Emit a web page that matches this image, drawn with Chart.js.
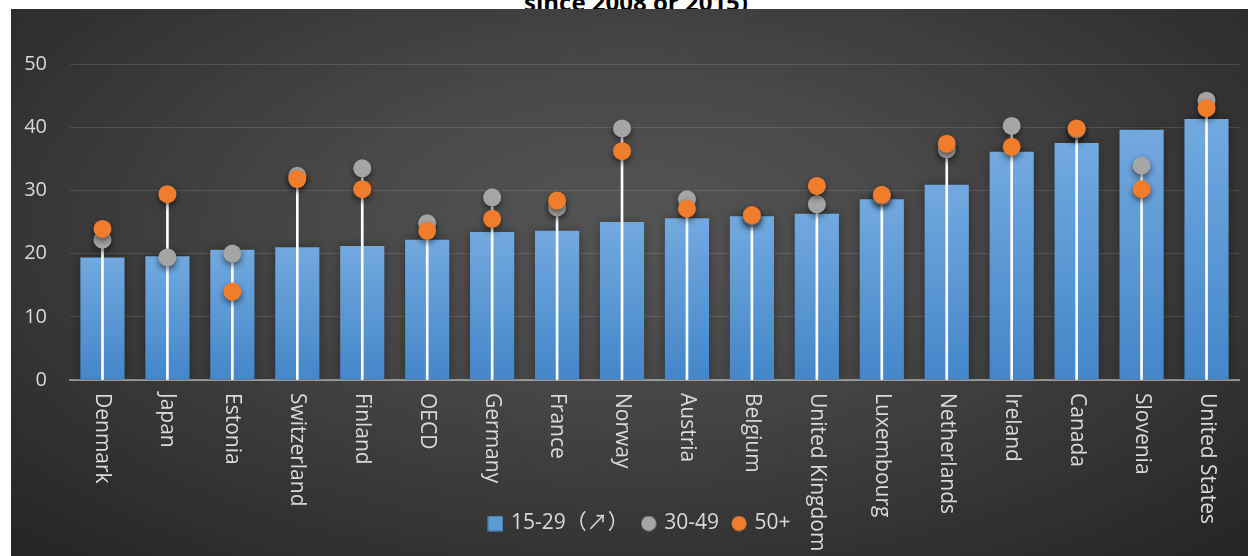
<!DOCTYPE html>
<html>
<head>
<meta charset="utf-8">
<script src="https://cdn.jsdelivr.net/npm/chart.js@4.4.1/dist/chart.umd.min.js"></script>
<style>
  html, body { margin: 0; padding: 0; background: #fff; }
  body { width: 1248px; height: 556px; position: relative; overflow: hidden; }
  #title { position: absolute; left: 0; top: 0; width: 1248px; height: 9px; overflow: hidden; }
  #title span { position: absolute; left: 0; width: 1272px; top: -15px; line-height: 24px; text-align: center;
    font: bold 24px 'Open Sans', sans-serif; color: #000; white-space: nowrap; }
  #wrap { position: absolute; left: 11px; top: 9px; width: 1237px; height: 547px;
    background: radial-gradient(ellipse 70% 80% at 50% 40%, #555555 0%, #484848 35%, #262626 100%); }
</style>
</head>
<body>
<div id="title"><span>since 2008 or 2015)</span></div>
<div id="wrap"><canvas id="chart"></canvas></div>
<script>
const countries = ['Denmark', 'Japan', 'Estonia', 'Switzerland', 'Finland', 'OECD', 'Germany', 'France', 'Norway',
  'Austria', 'Belgium', 'United Kingdom', 'Luxembourg', 'Netherlands', 'Ireland', 'Canada', 'Slovenia', 'United States'];
const age15to29 = [19.4, 19.6, 20.6, 21.0, 21.2, 22.2, 23.4, 23.6, 25.0, 25.6, 25.9, 26.3, 28.6, 30.9, 36.1, 37.5, 39.6, 41.3];
const age30to49 = [22.2, 19.4, 20.0, 32.3, 33.5, 24.8, 28.9, 27.3, 39.8, 28.6, 25.9, 27.8, 29.1, 36.5, 40.2, 39.6, 33.9, 44.2];
const age50plus = [23.9, 29.4, 14.0, 31.8, 30.2, 23.6, 25.5, 28.4, 36.2, 27.1, 26.1, 30.7, 29.3, 37.4, 36.9, 39.8, 30.2, 43.0];
const yTicks = [0, 10, 20, 30, 40, 50];
const seriesNames = ['15-29（↗）', '', '30-49', '50+'];

const FONT = "'Open Sans', 'Noto Sans CJK JP', sans-serif";
const TEXT = '#d9d9d9';

// white stems from the axis up to the higher of the two markers
const stems = countries.map((c, i) => [0, Math.max(age30to49[i], age50plus[i])]);

function makeIcon(draw) {
  const c = document.createElement('canvas');
  c.width = 16; c.height = 16;
  draw(c.getContext('2d'));
  return c;
}
const icons = {
  0: makeIcon(g => { g.fillStyle = '#5b9bd5'; g.fillRect(0.5, 0.5, 15, 15); }),
  2: makeIcon(g => { g.fillStyle = '#a5a5a5'; g.beginPath(); g.arc(8, 8, 7.5, 0, Math.PI * 2); g.fill(); }),
  3: makeIcon(g => { g.fillStyle = '#ef7d2c'; g.beginPath(); g.arc(8, 8, 7.5, 0, Math.PI * 2); g.fill(); })
};

function barGradient(ctx) {
  const chart = ctx.chart;
  const y = chart.scales.y;
  if (!chart.chartArea || !y || ctx.type !== 'data') return '#5b9bd5';
  const top = y.getPixelForValue(ctx.raw);
  const bottom = y.getPixelForValue(0);
  const g = chart.ctx.createLinearGradient(0, top, 0, bottom);
  g.addColorStop(0, '#72a9df');
  g.addColorStop(1, '#4486c9');
  return g;
}

const markShadow = {
  id: 'markShadow',
  beforeDatasetDraw(chart, args) {
    const ctx = chart.ctx;
    ctx.save();
    if (args.index === 0) {
      ctx.shadowColor = 'rgba(0,0,0,0.35)';
      ctx.shadowBlur = 10;
    } else if (args.index > 1) {
      ctx.shadowColor = 'rgba(0,0,0,0.55)';
      ctx.shadowBlur = 6;
      ctx.shadowOffsetY = 3;
    }
  },
  afterDatasetDraw(chart) {
    chart.ctx.restore();
  }
};

// legend sits a little right of the canvas centre
const legendNudge = {
  id: 'legendNudge',
  afterLayout(chart) {
    chart.legend.left += 15;
    chart.legend.right += 15;
  }
};

// country names run top-to-bottom under each bar
const countryLabels = {
  id: 'countryLabels',
  afterDraw(chart) {
    const { ctx, scales: { x } } = chart;
    ctx.save();
    ctx.fillStyle = TEXT;
    ctx.font = '21px ' + FONT;
    ctx.textAlign = 'left';
    ctx.textBaseline = 'middle';
    countries.forEach((name, i) => {
      ctx.save();
      ctx.translate(x.getPixelForValue(i), x.top + 13);
      ctx.rotate(Math.PI / 2);
      ctx.fillText(name, 0, 0);
      ctx.restore();
    });
    ctx.restore();
  }
};

Chart.defaults.font.family = FONT;

new Chart(document.getElementById('chart'), {
  data: {
    labels: countries,
    datasets: [
      {
        type: 'bar', label: seriesNames[0], data: age15to29, order: 3, grouped: false,
        backgroundColor: barGradient, barPercentage: 0.68, categoryPercentage: 1.0
      },
      {
        type: 'bar', label: seriesNames[1], data: stems, order: 2, grouped: false,
        backgroundColor: '#ffffff', barThickness: 2
      },
      {
        type: 'line', label: seriesNames[2], data: age30to49, order: 1, showLine: false,
        pointRadius: 9, pointHoverRadius: 9, pointBorderWidth: 0, pointBackgroundColor: '#a5a5a5'
      },
      {
        type: 'line', label: seriesNames[3], data: age50plus, order: 0, showLine: false,
        pointRadius: 9, pointHoverRadius: 9, pointBorderWidth: 0, pointBackgroundColor: '#ef7d2c'
      }
    ]
  },
  options: {
    responsive: true,
    maintainAspectRatio: false,
    animation: false,
    layout: { padding: { top: 55, right: 8, bottom: 12, left: 0 } },
    scales: {
      x: {
        type: 'category',
        z: 1,
        ticks: { display: false },
        grid: { display: false },
        border: { color: 'rgba(200,200,200,0.6)', width: 2 },
        afterFit: s => { s.height = 118; }
      },
      y: {
        min: 0,
        max: 50,
        afterBuildTicks: s => { s.ticks = yTicks.map(v => ({ value: v })); },
        ticks: { color: TEXT, font: { size: 20 }, padding: 23 },
        grid: { color: 'rgba(255,255,255,0.12)', drawTicks: false },
        border: { display: false },
        afterFit: s => { s.width = 59; }
      }
    },
    plugins: {
      tooltip: { enabled: false },
      legend: {
        position: 'bottom',
        labels: {
          color: TEXT,
          font: { size: 21 },
          usePointStyle: true,
          boxWidth: 10,
          boxHeight: 15,
          padding: 15,
          generateLabels(chart) {
            const items = Chart.defaults.plugins.legend.labels.generateLabels(chart);
            return items
              .filter(it => it.datasetIndex !== 1)
              .map(it => { it.pointStyle = icons[it.datasetIndex]; return it; })
              .sort((a, b) => a.datasetIndex - b.datasetIndex);
          }
        }
      }
    }
  },
  plugins: [markShadow, legendNudge, countryLabels]
});
</script>
</body>
</html>
